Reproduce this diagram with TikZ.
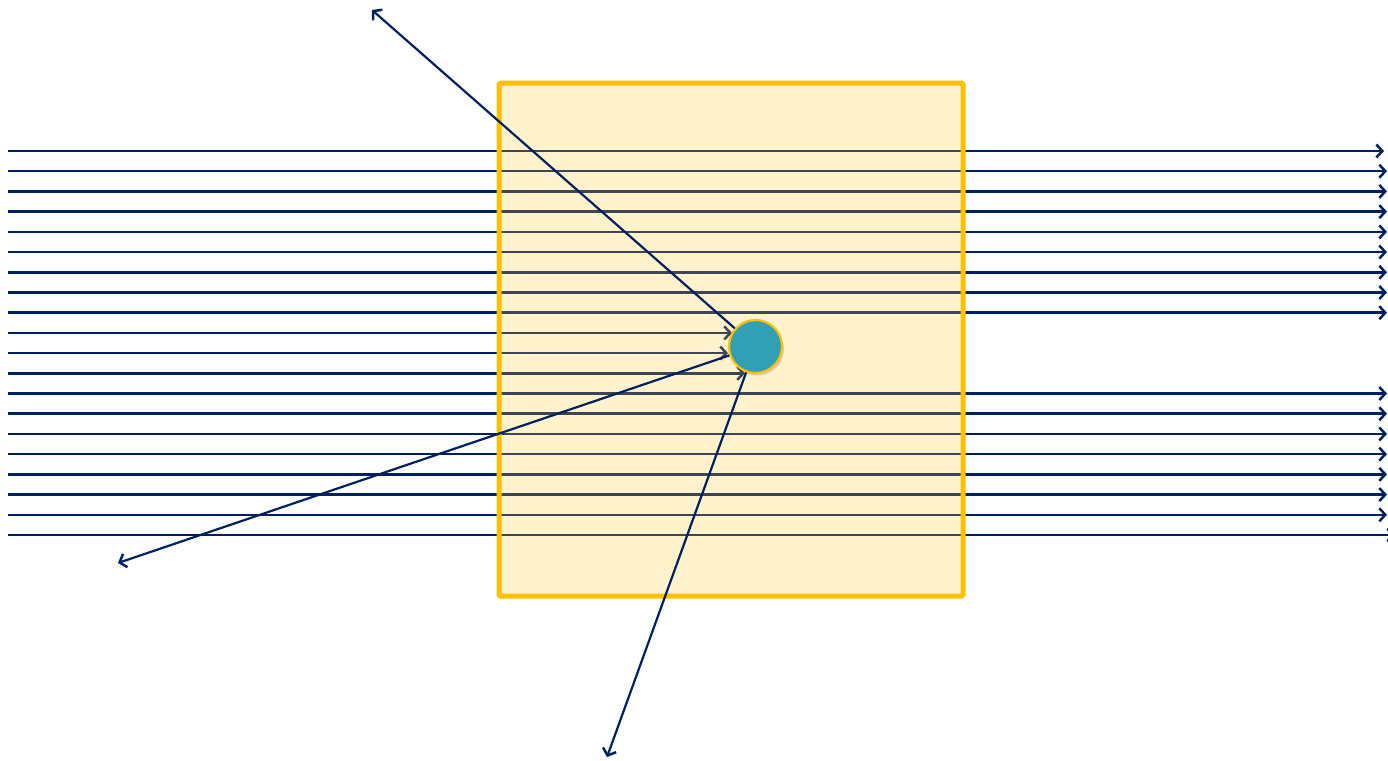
\documentclass[tikz,border=0pt]{standalone}
\usetikzlibrary{arrows.meta,shadows}
\definecolor{navy}{HTML}{002060}
\definecolor{inner}{HTML}{3E4655}
\definecolor{boxfill}{HTML}{FFF2CC}
\definecolor{boxline}{HTML}{FFC000}
\definecolor{teal}{HTML}{31A0B4}
\tikzset{
  ray/.style={draw=navy,line width=2.5pt},
  rayin/.style={draw=inner,line width=2.5pt},
  tip/.style={-{Straight Barb[length=6pt,width=13pt,line width=2.5pt]}},
  diag/.style={draw=navy,line width=2.2pt,-{Straight Barb[length=6pt,width=14pt,line width=2.5pt]}},
}
\begin{document}
\begin{tikzpicture}[x=1pt,y=-1pt]
\useasboundingbox (0,0) rectangle (1388,760);
% box fill
\fill[boxfill] (499,83) rectangle (963,596);
% horizontal rays passing through
\foreach \i in {0,...,8,12,13,...,19}{
  \pgfmathsetmacro{\yy}{151+20.21*\i}
  \pgfmathsetmacro{\xe}{ifthenelse(\i==0,1384,ifthenelse(\i==19,1395,1387))}
  \coordinate (a\i) at (8,\yy);
  \coordinate (b\i) at (499,\yy);
  \coordinate (c\i) at (963,\yy);
  \coordinate (d\i) at (\xe,\yy);
  \draw[ray] (a\i) -- (b\i);
  \draw[rayin] (b\i) -- (c\i);
  \draw[ray,tip] (c\i) -- (d\i);
}
% rays stopping at the particle
\foreach \i/\xe in {9/732,10/728,11/745}{
  \pgfmathsetmacro{\yy}{151+20.21*\i}
  \coordinate (a\i) at (8,\yy);
  \coordinate (b\i) at (499,\yy);
  \coordinate (e\i) at (\xe,\yy);
  \draw[ray] (a\i) -- (b\i);
  \draw[rayin,tip] (b\i) -- (e\i);
}
% box border
\node[draw=boxline,line width=5pt,rounded corners=1.5pt,minimum width=464pt,minimum height=513pt,inner sep=0pt] (box) at (731,339.5) {};
% particle
\node[circle,fill=teal,draw=boxline,line width=2.2pt,minimum size=53pt,inner sep=0pt,
  drop shadow={opacity=0.3,shadow xshift=2pt,shadow yshift=-2.5pt}] (p) at (755.5,346.5) {};
% scattered rays
\coordinate (s1) at (372,10);
\coordinate (s2) at (118,563);
\coordinate (s3) at (607,757);
\draw[diag] (p) -- (s1);
\draw[diag] (p) -- (s2);
\draw[diag] (p) -- (s3);
\end{tikzpicture}
\end{document}
